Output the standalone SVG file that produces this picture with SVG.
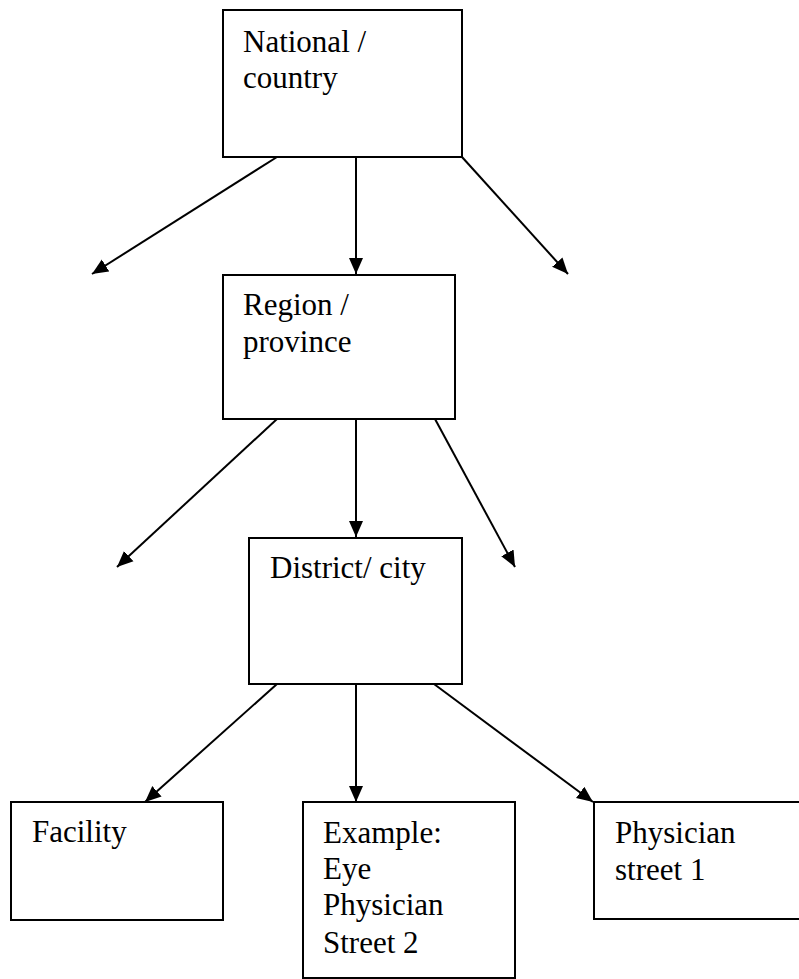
<svg xmlns="http://www.w3.org/2000/svg" width="799" height="979" viewBox="0 0 799 979">
<style>
.box{fill:#fff;stroke:#000;stroke-width:2}
.t{font-family:"Liberation Serif","Times New Roman",serif;font-size:31px;fill:#000}
.c{stroke:#000;stroke-width:2;fill:none}
</style>
<defs>
<marker id="ah" markerUnits="userSpaceOnUse" markerWidth="18" markerHeight="16" refX="16" refY="8" orient="auto">
<path d="M0,1 L16,8 L0,15 Z" fill="#000"/>
</marker>
</defs>
<rect width="799" height="979" fill="#fff"/>
<g id="connectors">
<line class="c" x1="277" y1="157" x2="92" y2="274" marker-end="url(#ah)"/>
<line class="c" x1="356" y1="157" x2="356" y2="274" marker-end="url(#ah)"/>
<line class="c" x1="462" y1="157" x2="568" y2="274" marker-end="url(#ah)"/>
<line class="c" x1="277" y1="419" x2="117" y2="567" marker-end="url(#ah)"/>
<line class="c" x1="356" y1="419" x2="356" y2="537" marker-end="url(#ah)"/>
<line class="c" x1="435" y1="419" x2="515" y2="567" marker-end="url(#ah)"/>
<line class="c" x1="277" y1="684" x2="145" y2="802" marker-end="url(#ah)"/>
<line class="c" x1="356" y1="684" x2="356" y2="802" marker-end="url(#ah)"/>
<line class="c" x1="434" y1="684" x2="593" y2="802" marker-end="url(#ah)"/>
</g>
<g id="national">
<rect class="box" x="223" y="10" width="239" height="147"/>
<text class="t" x="243" y="52">National /</text>
<text class="t" x="243" y="88">country</text>
</g>
<g id="region">
<rect class="box" x="223" y="275" width="232" height="144"/>
<text class="t" x="243" y="315">Region /</text>
<text class="t" x="243" y="352">province</text>
</g>
<g id="district">
<rect class="box" x="249" y="538" width="213" height="146"/>
<text class="t" x="270" y="578">District/ city</text>
</g>
<g id="facility">
<rect class="box" x="11" y="802" width="212" height="118"/>
<text class="t" x="32" y="842">Facility</text>
</g>
<g id="example">
<rect class="box" x="303" y="802" width="212" height="176"/>
<text class="t" x="323" y="843">Example:</text>
<text class="t" x="323" y="879">Eye</text>
<text class="t" x="323" y="915">Physician</text>
<text class="t" x="323" y="953">Street 2</text>
</g>
<g id="physician">
<rect class="box" x="594" y="802" width="220" height="117"/>
<text class="t" x="615" y="843">Physician</text>
<text class="t" x="615" y="880">street 1</text>
</g>
</svg>
